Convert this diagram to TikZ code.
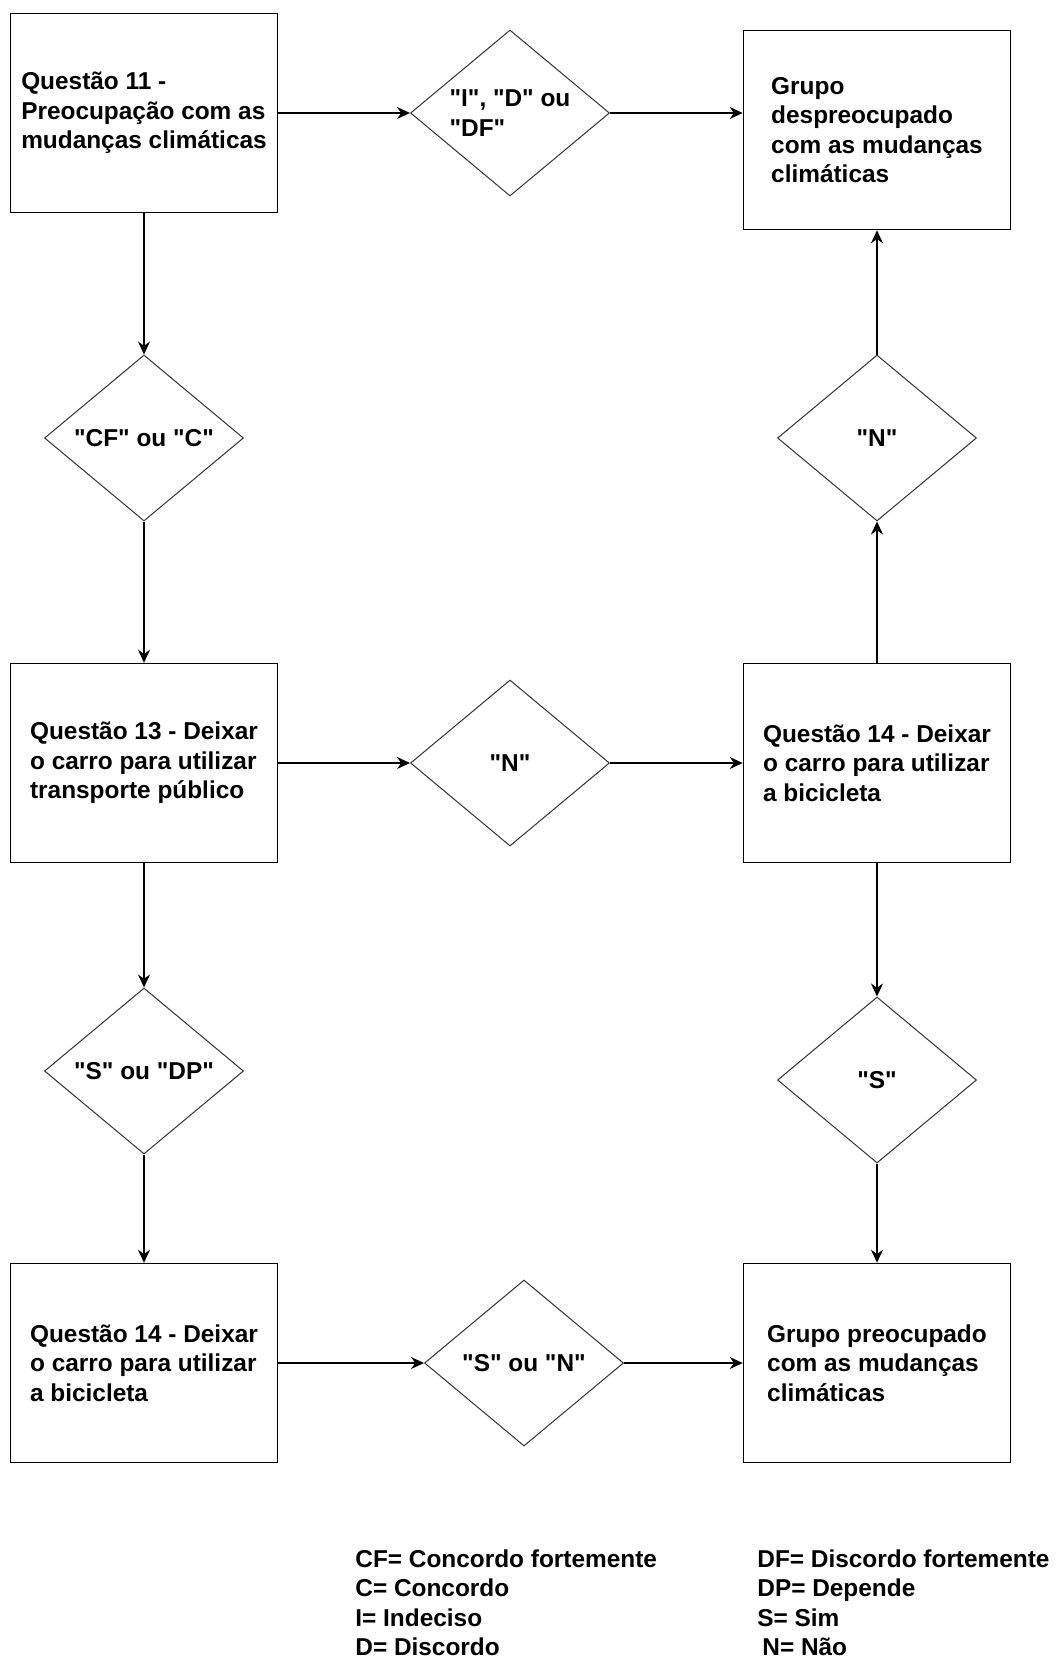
\documentclass[tikz,border=0pt]{standalone}
\usepackage{fontspec}
\setmainfont{Liberation Sans}[Ligatures=TeXOff]
\usetikzlibrary{arrows.meta, shapes.geometric}

\begin{document}
\begin{tikzpicture}[
    x=0.5pt, y=-0.5pt,
    txt/.style={font=\fontsize{12.2}{14.8}\selectfont\bfseries, align=left},
    box/.style={txt, draw, line width=0.75pt, minimum width=133.5pt,
                minimum height=99.5pt},
    decision/.style={txt, draw=black!80, diamond, aspect=1.2, inner sep=0pt,
                     line width=0.5pt, minimum width=99.5pt, minimum height=83pt},
    legend/.style={txt, inner sep=0pt, anchor=north west},
    flow/.style={-{Stealth[length=6.5pt, width=6pt]}, line width=0.65pt}
  ]
  \useasboundingbox (0, 0) rectangle (1059, 1661);

  % first row
  \node[box] (q11) at (144, 113) {Questão 11 -\\Preocupação com as\\mudanças climáticas};
  \node[decision] (r11) at (510, 113) {"I", "D" ou\\"DF"};
  \node[box] (despreoc) at (877, 130) {Grupo\\despreocupado\\com as mudanças\\climáticas};

  % second row
  \node[decision] (cf) at (144, 438) {"CF" ou "C"};
  \node[decision] (n14) at (877, 438) {"N"};

  % third row
  \node[box] (q13) at (144, 763) {Questão 13 - Deixar\\o carro para utilizar\\transporte público};
  \node[decision] (n13) at (510, 763) {"N"};
  \node[box] (q14a) at (877, 763) {Questão 14 - Deixar\\o carro para utilizar\\a bicicleta};

  % fourth row
  \node[decision] (sdp) at (144, 1071) {"S" ou "DP"};
  \node[decision] (s14) at (877, 1080) {"S"};

  % last row
  \node[box] (q14b) at (144, 1363) {Questão 14 - Deixar\\o carro para utilizar\\a bicicleta};
  \node[decision] (sn) at (524, 1363) {"S" ou "N"};
  \node[box] (preoc) at (877, 1363) {Grupo preocupado\\com as mudanças\\climáticas};

  \draw[flow] (q11) -- (r11);
  \draw[flow] (r11) -- (r11.east -| despreoc.west);
  \draw[flow] (q11) -- (cf);
  \draw[flow] (cf) -- (q13);
  \draw[flow] (q13) -- (n13);
  \draw[flow] (n13) -- (q14a);
  \draw[flow] (q14a) -- (n14);
  \draw[flow] (n14) -- (despreoc);
  \draw[flow] (q13) -- (sdp);
  \draw[flow] (sdp) -- (q14b);
  \draw[flow] (q14a) -- (s14);
  \draw[flow] (s14) -- (preoc);
  \draw[flow] (q14b) -- (sn);
  \draw[flow] (sn) -- (preoc);

  % legend
  \node[legend] (legleft) at (355, 1549)
    {CF= Concordo fortemente\\C= Concordo\\I= Indeciso\\D= Discordo};
  \node[legend] (legright) at (757, 1549)
    {DF= Discordo fortemente\\DP= Depende\\S= Sim\\\hspace*{2.5pt}N= Não};
\end{tikzpicture}
\end{document}
